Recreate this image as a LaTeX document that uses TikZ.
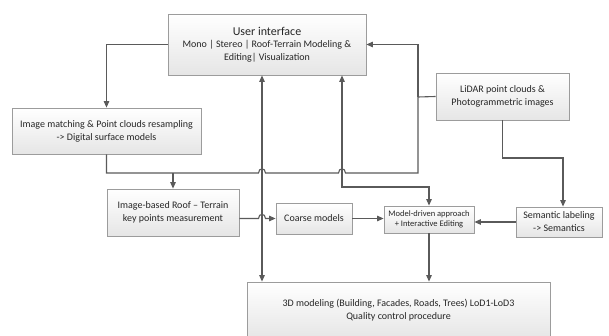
\documentclass[tikz,border=0pt]{standalone}
\usepackage{fontspec}
\setmainfont{Carlito}
\usetikzlibrary{arrows.meta,shadows,calc}

\definecolor{linegray}{HTML}{5A5A5A}
\definecolor{boxedge}{HTML}{9C9C9C}
\definecolor{txt}{HTML}{262626}

\begin{document}
\begin{tikzpicture}[x=1pt,y=-1pt,
  box/.style={draw=boxedge, line width=0.8pt, top color=white, bottom color=gray!20,
    align=center, text=txt, inner sep=2pt, font=\fontsize{10}{13}\selectfont,
    drop shadow={shadow xshift=1.2pt,shadow yshift=-1.2pt,opacity=0.25,fill=gray}},
  link/.style={draw=linegray, line width=1.1pt},
  tip/.tip={Triangle[length=6.5pt,width=5.5pt]},
  arr/.style={link, -tip},
  darr/.style={link, tip-tip},
]
\useasboundingbox (0,0) rectangle (609,336);

% boxes
\node[box, minimum width=198pt, minimum height=61pt] (ui) at (267,44.5)
  {{\fontsize{12}{15}\selectfont User interface}\\[-1pt]
   Mono | Stereo | Roof-Terrain Modeling \&\\ Editing| Visualization};
\node[box, minimum width=189pt, minimum height=46pt] (im) at (106.5,131)
  {Image matching \& Point clouds resampling\\-> Digital surface models};
\node[box, minimum width=133pt, minimum height=47pt] (lidar) at (502.5,96.5)
  {LiDAR point clouds \&\\Photogrammetric images};
\node[box, minimum width=132pt, minimum height=47pt] (ibr) at (173,212.5)
  {Image-based Roof – Terrain\\key points measurement};
\node[box, minimum width=76pt, minimum height=31pt] (coarse) at (314,218.5)
  {Coarse models};
\node[box, minimum width=90pt, minimum height=27pt, font=\fontsize{8.5}{10}\selectfont] (md) at (429,219.5)
  {Model-driven approach\\+ Interactive Editing};
\node[box, minimum width=86pt, minimum height=30pt] (sem) at (559,222)
  {Semantic labeling\\-> Semantics};
\node[box, minimum width=303pt, minimum height=57pt] (model3d) at (398.5,310.5)
  {3D modeling (Building, Facades, Roads, Trees) LoD1-LoD3\\Quality control procedure};

% junction points of the connectors
\coordinate (xa) at (262,0);
\coordinate (xb) at (342,0);
\coordinate (jl) at (418,97);
\coordinate (jb) at (418,173);
\coordinate (jr) at (173,173);
\coordinate (mj) at (342,187);
\coordinate (ls) at (563,158);

% connectors
\draw[arr] (ui.west) -| (im.north);
\draw[link] (lidar.west) -- (jl);
\draw[arr] (jl) |- (ui.east);
\draw[link] (jl) -- (jb)
  -- ($(xb|-jb)+(3.5,0)$) .. controls +(0,-5.5) and +(0,-5.5) .. ($(xb|-jb)+(-3.5,0)$)
  -- ($(xa|-jb)+(3.5,0)$) .. controls +(0,-5.5) and +(0,-5.5) .. ($(xa|-jb)+(-3.5,0)$)
  -- (im.south |- jb) -- (im.south);
\draw[arr] (jr) -- (ibr.north);
\draw[darr] (ui.south -| xa) -- (model3d.north -| xa);
\draw[darr] (ui.south -| xb) -- (mj) -| (md.north);
\draw[arr] (ibr.east |- coarse.west)
  -- ($(xa|-coarse.west)+(-3.5,0)$) .. controls +(0,-5.5) and +(0,-5.5) .. ($(xa|-coarse.west)+(3.5,0)$)
  -- (coarse.west);
\draw[arr] (coarse.east) -- (md.west |- coarse.east);
\draw[arr] (lidar.south) |- (ls) -- (ls |- sem.north);
\draw[arr] (sem.west) -- (md.east |- sem.west);
\draw[arr] (md.south) -- (md.south |- model3d.north);
\end{tikzpicture}
\end{document}
